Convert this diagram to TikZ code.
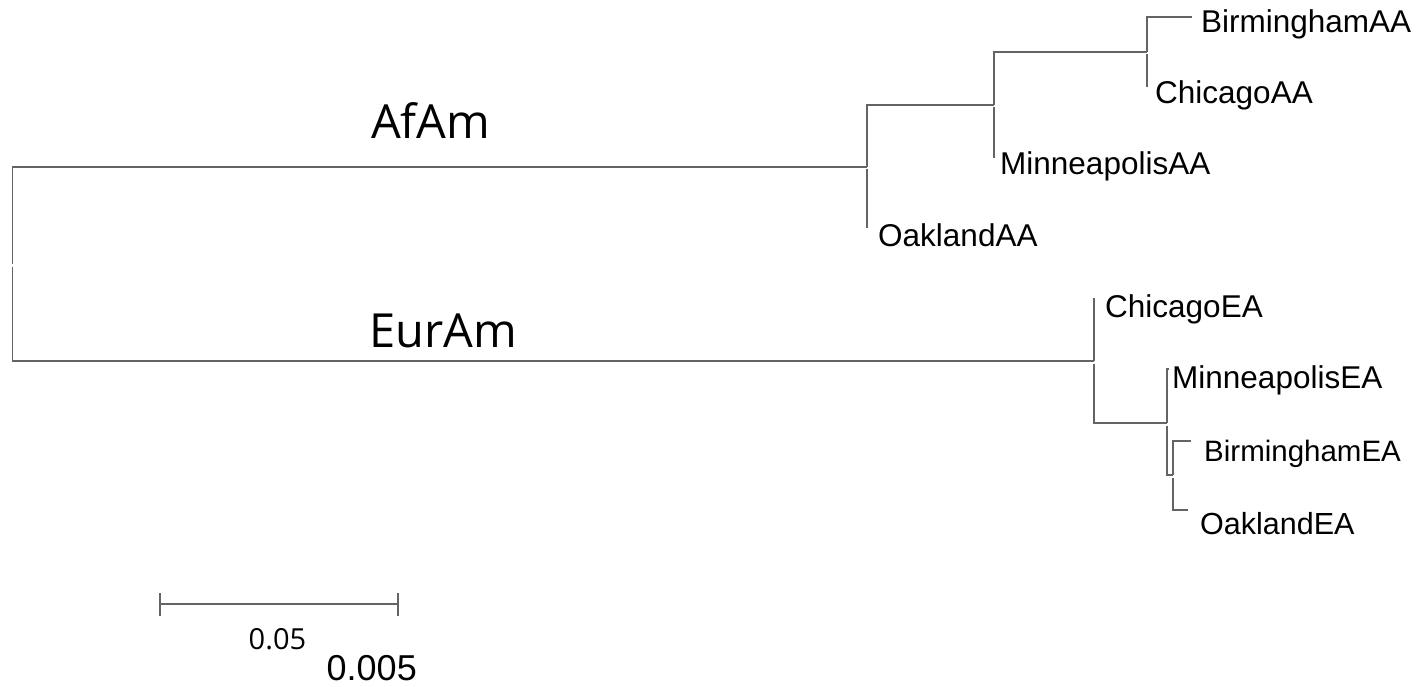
\documentclass[tikz,border=0pt]{standalone}
\usepackage{fontspec}
\setmainfont{Liberation Sans}
\newfontfamily\osans{Open Sans}
\definecolor{branch}{RGB}{100,100,100}
\tikzset{
  br/.style={draw=branch, line width=1.6pt},
  leaf/.style={anchor=base west, inner sep=0pt, font=\fontsize{31.5}{31.5}\selectfont},
  clade/.style={anchor=base west, inner sep=0pt, font=\osans\fontsize{47}{47}\selectfont},
}
\begin{document}
\begin{tikzpicture}[x=1pt,y=-1pt]
\useasboundingbox (0,0) rectangle (1416,687);
% tree nodes
\coordinate (r) at (12.5,264);
\coordinate (a) at (867,167);
\coordinate (n1) at (994,105);
\coordinate (n2) at (1147,52);
\coordinate (e) at (1094,361);
\coordinate (n3) at (1167,423);
\coordinate (n4) at (1173,475);
% leaf ends
\coordinate (bAA) at (1192,17);
\coordinate (cAA) at (1147,87);
\coordinate (mAA) at (994,158);
\coordinate (oAA) at (867,228);
\coordinate (cEA) at (1094,298);
\coordinate (mEA) at (1169,369);
\coordinate (bEA) at (1191,441);
\coordinate (oEA) at (1188,510);
% branches
\draw[br] (r) |- (a);
\draw[br] ([yshift=-2.5pt]r) |- (e);
\draw[br] (a) |- (n1);
\draw[br] ([yshift=-2.5pt]a) |- (oAA);
\draw[br] (n1) |- (n2);
\draw[br] ([yshift=-2.5pt]n1) |- (mAA);
\draw[br] (n2) |- (bAA);
\draw[br] ([yshift=-2.5pt]n2) |- (cAA);
\draw[br] (e) |- (cEA);
\draw[br] ([yshift=-2.5pt]e) |- (n3);
\draw[br] (n3) |- (mEA);
\draw[br] ([yshift=-2.5pt]n3) |- (n4);
\draw[br] (n4) |- (bEA);
\draw[br] ([yshift=-2.5pt]n4) |- (oEA);
% labels
\node[leaf] (tbAA) at (1201,33) {BirminghamAA};
\node[leaf] (tcAA) at (1155,104) {ChicagoAA};
\node[leaf] (tmAA) at (1000,175) {MinneapolisAA};
\node[leaf] (toAA) at (878,246) {OaklandAA};
\node[leaf] (tcEA) at (1105,317) {ChicagoEA};
\node[leaf] (tmEA) at (1172,388) {MinneapolisEA};
\node[leaf, font=\fontsize{29.5}{29.5}\selectfont] (tbEA) at (1204,461) {BirminghamEA};
\node[leaf, font=\fontsize{30.5}{30.5}\selectfont] (toEA) at (1200,534) {OaklandEA};
\node[clade] (tA) at (371,139) {AfAm};
\node[clade] (tE) at (369,347) {EurAm};
% scale bar
\coordinate (s1) at (160,604);
\coordinate (s2) at (398,604);
\draw[br] (s1) -- (s2);
\draw[br] ([yshift=11pt]s1) -- ([yshift=-12pt]s1);
\draw[br] ([yshift=11pt]s2) -- ([yshift=-12pt]s2);
\node[anchor=base west, inner sep=0pt, font=\osans\fontsize{29}{29}\selectfont] (t05) at (248.5,649) {0.05};
\node[anchor=base west, inner sep=0pt, font=\fontsize{36}{36}\selectfont] (t005) at (326.5,680) {0.005};
\end{tikzpicture}
\end{document}
